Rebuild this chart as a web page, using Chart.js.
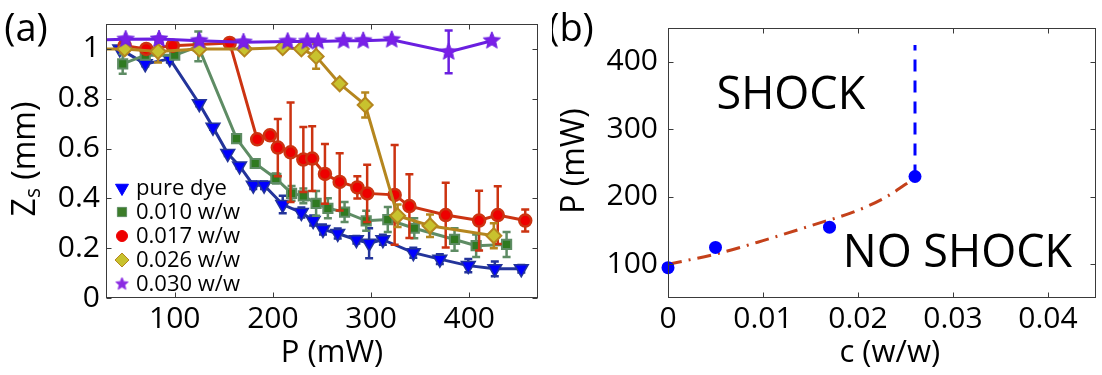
<!DOCTYPE html>
<html>
<head>
<meta charset="utf-8">
<script src="https://cdn.jsdelivr.net/npm/chart.js@4.4.1/dist/chart.umd.min.js"></script>
<style>
  html, body { margin: 0; padding: 0; background: #fff; }
  #wrap { position: relative; width: 1102px; height: 375px; }
  #chartA { position: absolute; left: 0; top: 0; }
  #chartB { position: absolute; left: 552px; top: 0; }
</style>
</head>
<body>
<div id="wrap">
  <canvas id="chartA" width="552" height="375"></canvas>
  <canvas id="chartB" width="550" height="375"></canvas>
</div>
<script>
// ---- panel (a): Z_s (mm) vs P (mW) ----
const pureP   = [44, 70, 95, 125, 139, 154, 166, 180, 191, 210, 229, 241, 251, 266, 285, 298, 312, 343, 370, 399, 426, 453];
const pureZ   = [1.0, 0.94, 0.96, 0.78, 0.685, 0.58, 0.53, 0.453, 0.453, 0.375, 0.343, 0.311, 0.275, 0.259, 0.234, 0.22, 0.234, 0.182, 0.156, 0.13, 0.117, 0.117];
const pureErr = [0, 0.01, 0.015, 0.01, 0.01, 0.01, 0.01, 0.015, 0.015, 0.035, 0.02, 0.02, 0.02, 0.02, 0.015, 0.06, 0.02, 0.02, 0.02, 0.027, 0.03, 0.015];

const w010P   = [47, 70, 100, 124, 163, 182, 203, 219, 231, 244, 256, 273, 295, 317, 344, 385, 407, 438];
const w010Z   = [0.94, 0.975, 0.975, 1.01, 0.64, 0.54, 0.48, 0.42, 0.41, 0.38, 0.36, 0.345, 0.31, 0.315, 0.28, 0.235, 0.21, 0.215];
const w010Err = [0.04, 0.01, 0.01, 0.06, 0.01, 0.01, 0.02, 0.03, 0.03, 0.05, 0.04, 0.04, 0.04, 0.05, 0.04, 0.045, 0.045, 0.05];

const w017P   = [49, 71, 98, 156, 184, 197, 205, 218, 231, 240, 253, 268, 286, 296, 324, 339, 376, 410, 429, 457];
const w017Z   = [1.013, 1.0, 1.013, 1.024, 0.637, 0.653, 0.604, 0.585, 0.556, 0.56, 0.498, 0.466, 0.444, 0.42, 0.414, 0.369, 0.333, 0.311, 0.333, 0.311];
const w017Err = [0, 0, 0, 0, 0, 0, 0.115, 0.2, 0.13, 0.13, 0.12, 0.115, 0.045, 0.115, 0.2, 0.128, 0.13, 0.12, 0.116, 0.044];

const w026P   = [15, 49, 83, 125, 171, 210, 229, 244, 268, 294, 327, 360, 425];
const w026Z   = [1.0, 1.0, 0.99, 1.0, 1.0, 1.005, 1.0, 0.97, 0.86, 0.775, 0.33, 0.29, 0.25];
const w026Err = [0, 0, 0.045, 0, 0, 0, 0, 0.05, 0, 0.05, 0.045, 0.045, 0.05];

const w030P   = [15, 50, 84, 125, 170, 215, 235, 246, 272, 292, 321, 379, 423];
const w030Z   = [1.035, 1.039, 1.04, 1.033, 1.027, 1.03, 1.03, 1.03, 1.033, 1.033, 1.037, 0.988, 1.033];
const w030Err = [0, 0, 0, 0, 0, 0, 0, 0, 0, 0, 0, 0.086, 0];

const xTicksA = [100, 200, 300, 400];
const yTicksA = [0, 0.2, 0.4, 0.6, 0.8, 1];

// ---- panel (b): P (mW) vs c (w/w) ----
const shockC = [0, 0.005, 0.017, 0.026];
const shockP = [95, 125, 155, 230];
const fitC   = [0, 0.005, 0.01, 0.015, 0.02, 0.023, 0.026];
const fitP   = [100, 115, 135, 157, 180, 200, 228];
const edgeC  = [0.026, 0.026];
const edgeP  = [230, 425];

const xTicksB = [0, 0.01, 0.02, 0.03, 0.04];
const yTicksB = [100, 200, 300, 400];

Chart.defaults.font.family = "'Open Sans', 'Noto Sans', sans-serif";
Chart.defaults.color = '#000';

const pts = (xs, ys) => xs.map((v, i) => ({x: v, y: ys[i]}));

function starImg(size, fill, stroke) {
  const c = document.createElement('canvas');
  c.width = c.height = size;
  const g = c.getContext('2d');
  const R = size / 2 - 1, r = R * 0.45;
  g.beginPath();
  for (let i = 0; i < 10; i++) {
    const a = -Math.PI / 2 + i * Math.PI / 5;
    const rr = i % 2 ? r : R;
    g.lineTo(size / 2 + rr * Math.cos(a), size / 2 + rr * Math.sin(a));
  }
  g.closePath();
  g.fillStyle = fill; g.fill();
  g.strokeStyle = stroke; g.lineWidth = 1; g.stroke();
  return c;
}
const starBig = starImg(20, '#7a1fe8', '#6a1fe0');
const starSmall = starImg(15, '#8a2be2', '#8a2be2');

// error bars, drawn just under each dataset
const errorBars = {
  id: 'errorBars',
  beforeDatasetDraw(chart, args) {
    const ds = chart.data.datasets[args.index];
    if (!ds.errors) return;
    const {ctx, chartArea: a} = chart;
    const x = chart.scales.x, y = chart.scales.y;
    ctx.save();
    ctx.beginPath();
    ctx.rect(a.left, a.top, a.right - a.left, a.bottom - a.top);
    ctx.clip();
    ctx.strokeStyle = ds.borderColor;
    ctx.lineWidth = 2.5;
    ds.data.forEach((p, i) => {
      const e = ds.errors[i];
      if (!e) return;
      const px = x.getPixelForValue(p.x);
      const y1 = y.getPixelForValue(p.y + e), y2 = y.getPixelForValue(p.y - e);
      ctx.beginPath();
      ctx.moveTo(px, y1); ctx.lineTo(px, y2);
      ctx.moveTo(px - 4, y1); ctx.lineTo(px + 4, y1);
      ctx.moveTo(px - 4, y2); ctx.lineTo(px + 4, y2);
      ctx.stroke();
    });
    ctx.restore();
  }
};

// box round the plot with inward ticks on all sides
const frame = {
  id: 'frame',
  afterDraw(chart) {
    const {ctx, chartArea: a} = chart;
    const x = chart.scales.x, y = chart.scales.y;
    const L = Math.round(a.left) + 0.5, R = Math.round(a.right) - 0.5;
    const T = Math.round(a.top) + 0.5, B = Math.round(a.bottom) - 0.5;
    ctx.save();
    ctx.strokeStyle = '#3a3a3a';
    ctx.lineWidth = 1;
    ctx.strokeRect(L, T, R - L, B - T);
    ctx.beginPath();
    x.ticks.forEach(t => {
      const px = Math.round(x.getPixelForValue(t.value)) + 0.5;
      ctx.moveTo(px, B); ctx.lineTo(px, B - 5);
      ctx.moveTo(px, T); ctx.lineTo(px, T + 5);
    });
    y.ticks.forEach(t => {
      const py = Math.round(y.getPixelForValue(t.value)) + 0.5;
      ctx.moveTo(L, py); ctx.lineTo(L + 5, py);
      ctx.moveTo(R, py); ctx.lineTo(R - 5, py);
    });
    ctx.stroke();
    ctx.restore();
  }
};

// legend in the lower left corner of panel (a)
const insetLegend = {
  id: 'insetLegend',
  afterDraw(chart) {
    const {ctx, chartArea: a} = chart;
    const sets = chart.data.datasets;
    ctx.save();
    ctx.font = "22px 'Open Sans'";
    ctx.textBaseline = 'middle';
    ctx.textAlign = 'left';
    sets.forEach((ds, i) => {
      const yy = a.bottom - 14 - (sets.length - 1 - i) * 24;
      const xx = a.left + 16;
      ctx.fillStyle = ds.legendFill;
      ctx.strokeStyle = ds.legendEdge;
      Chart.helpers.drawPoint(ctx, {
        pointStyle: ds.legendStyle || ds.pointStyle,
        rotation: ds.pointRotation || 0,
        radius: ds.legendRadius,
        borderWidth: 1
      }, xx, yy);
      ctx.fillStyle = '#000';
      ctx.fillText(ds.label, a.left + 30, yy + 1);
    });
    ctx.restore();
  }
};

function titles(opt) {
  return {
    id: 'titles',
    afterDraw(chart) {
      const {ctx, chartArea: a} = chart;
      ctx.save();
      ctx.fillStyle = '#000';
      ctx.textBaseline = 'middle';
      ctx.textAlign = 'center';
      ctx.font = "38px 'Open Sans'";
      ctx.fillText(opt.tag, opt.tagX, 30);
      ctx.font = "31px 'Open Sans'";
      ctx.fillText(opt.xTitle, (a.left + a.right) / 2 + opt.xShift, 353);
      // rotated y title, with optional subscript
      ctx.translate(opt.yTitleX, (a.top + a.bottom) / 2 - 2);
      ctx.rotate(-Math.PI / 2);
      const main = opt.yTitle, sub = opt.ySub || '', rest = opt.yRest || '';
      ctx.font = "32px 'Open Sans'";
      const w1 = ctx.measureText(main).width, w3 = ctx.measureText(rest).width;
      ctx.font = "21px 'Open Sans'";
      const w2 = ctx.measureText(sub).width;
      let cx = -(w1 + w2 + w3) / 2;
      ctx.textAlign = 'left';
      ctx.font = "32px 'Open Sans'";
      ctx.fillText(main, cx, 0); cx += w1;
      ctx.font = "21px 'Open Sans'";
      ctx.fillText(sub, cx, 8); cx += w2;
      ctx.font = "32px 'Open Sans'";
      ctx.fillText(rest, cx, 0);
      ctx.restore();
    }
  };
}

// regime labels inside panel (b)
const regimes = {
  id: 'regimes',
  afterDraw(chart) {
    const {ctx} = chart;
    const x = chart.scales.x, y = chart.scales.y;
    ctx.save();
    ctx.fillStyle = '#000';
    ctx.font = "45px 'Open Sans'";
    ctx.textAlign = 'left';
    ctx.textBaseline = 'alphabetic';
    ctx.fillText('SHOCK', x.getPixelForValue(0.0051), y.getPixelForValue(330));
    ctx.fillText('NO SHOCK', x.getPixelForValue(0.0184), y.getPixelForValue(96));
    ctx.restore();
  }
};

const tickFont = {size: 30};

function axisX(min, max, list, pad) {
  return {
    type: 'linear', min: min, max: max,
    afterBuildTicks: s => { s.ticks = list.map(v => ({value: v})); },
    afterFit: s => { s.height = 77; },
    grid: {display: false, drawTicks: false},
    border: {display: false},
    ticks: {font: tickFont, color: '#000', padding: pad, autoSkip: false, maxRotation: 0, callback: v => String(v)}
  };
}
function axisY(min, max, list, width, pad) {
  return {
    type: 'linear', min: min, max: max,
    afterBuildTicks: s => { s.ticks = list.map(v => ({value: v})); },
    afterFit: s => { s.width = width; },
    grid: {display: false, drawTicks: false},
    border: {display: false},
    ticks: {font: tickFont, color: '#000', padding: pad, autoSkip: false, callback: v => String(v)}
  };
}

new Chart(document.getElementById('chartA'), {
  type: 'line',
  data: {
    datasets: [
      {
        label: 'pure dye', data: pts(pureP, pureZ), errors: pureErr, order: 5,
        borderColor: '#23349a', borderWidth: 3, clip: 0,
        pointStyle: 'triangle', pointRotation: 180, pointRadius: 8,
        pointBackgroundColor: '#0000ff', pointBorderColor: '#23349a', pointBorderWidth: 1.5,
        legendFill: '#0000ff', legendEdge: '#0000ff', legendRadius: 7.5
      },
      {
        label: '0.010 w/w', data: pts(w010P, w010Z), errors: w010Err, order: 4,
        borderColor: '#5e8c64', borderWidth: 3, clip: 0,
        pointStyle: 'rect', pointRadius: 6.5,
        pointBackgroundColor: '#2f7a20', pointBorderColor: '#5e8c64', pointBorderWidth: 2,
        legendFill: '#3d7d2a', legendEdge: '#5e8c64', legendRadius: 6.5
      },
      {
        label: '0.017 w/w', data: pts(w017P, w017Z), errors: w017Err, order: 3,
        borderColor: '#cc3311', borderWidth: 3, clip: 0,
        pointStyle: 'circle', pointRadius: 6,
        pointBackgroundColor: '#ee0000', pointBorderColor: '#cc3311', pointBorderWidth: 2.5,
        legendFill: '#ee0000', legendEdge: '#ee0000', legendRadius: 5.5
      },
      {
        label: '0.026 w/w', data: pts(w026P, w026Z), errors: w026Err, order: 2,
        borderColor: '#b5861e', borderWidth: 3, clip: 0,
        pointStyle: 'rectRot', pointRadius: 7.5,
        pointBackgroundColor: '#c8c22e', pointBorderColor: '#b5861e', pointBorderWidth: 2,
        legendFill: '#c8c22e', legendEdge: '#b5861e', legendRadius: 7
      },
      {
        label: '0.030 w/w', data: pts(w030P, w030Z), errors: w030Err, order: 1,
        borderColor: '#6a1fe0', borderWidth: 3, clip: 0,
        pointStyle: starBig, pointRadius: 9,
        legendStyle: starSmall, legendFill: '#8a2be2', legendEdge: '#8a2be2', legendRadius: 7
      }
    ]
  },
  options: {
    responsive: false, animation: false, devicePixelRatio: 1,
    layout: {padding: {top: 14, right: 14, left: 0, bottom: 0}},
    plugins: {legend: {display: false}, tooltip: {enabled: false}},
    scales: {
      x: axisX(30, 470, xTicksA, 3),
      y: axisY(0, 1.1, yTicksA, 106, 6)
    }
  },
  plugins: [errorBars, frame, insetLegend,
    titles({tag: '(a)', tagX: 26, xTitle: 'P (mW)', xShift: 10, yTitleX: 26, yTitle: 'Z', ySub: 's', yRest: ' (mm)'})]
});

new Chart(document.getElementById('chartB'), {
  type: 'line',
  data: {
    datasets: [
      {
        label: 'threshold', data: pts(shockC, shockP), showLine: false, order: 1,
        pointStyle: 'circle', pointRadius: 6.5, pointBackgroundColor: '#0000ff', pointBorderWidth: 0, clip: false
      },
      {
        label: 'fit', data: pts(fitC, fitP), order: 2, tension: 0.4, cubicInterpolationMode: 'monotone',
        borderColor: '#c4411a', borderWidth: 3, borderDash: [14, 7, 2, 7], pointRadius: 0
      },
      {
        label: 'edge', data: pts(edgeC, edgeP), order: 3,
        borderColor: '#0000ff', borderWidth: 3, borderDash: [12, 9], pointRadius: 0
      }
    ]
  },
  options: {
    responsive: false, animation: false, devicePixelRatio: 1,
    layout: {padding: {top: 14, right: 2, left: 0, bottom: 0}},
    plugins: {legend: {display: false}, tooltip: {enabled: false}},
    scales: {
      x: axisX(0, 0.045, xTicksB, 3),
      y: axisY(50, 450, yTicksB, 116, 10)
    }
  },
  plugins: [frame, regimes,
    titles({tag: '(b)', tagX: 19, xTitle: 'c (w/w)', xShift: 8, yTitleX: 23, yTitle: 'P (mW)'})]
});
</script>
</body>
</html>
